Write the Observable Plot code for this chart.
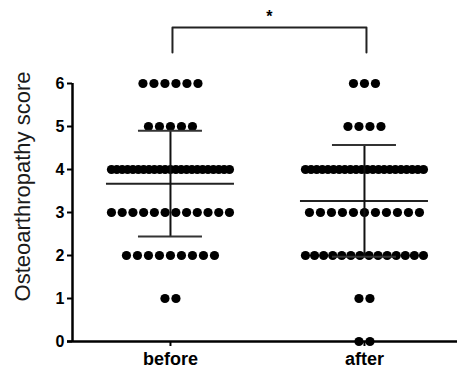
<!DOCTYPE html>
<html>
<head>
<meta charset="utf-8">
<script src="https://cdn.jsdelivr.net/npm/d3@7"></script>
<script src="https://cdn.jsdelivr.net/npm/@observablehq/plot@0.6"></script>
<style>
  html, body { margin: 0; padding: 0; background: #fff; }
</style>
</head>
<body>
<div id="chart"></div>
<script>
// ---- data ----
const groups = ["before", "after"];
const scores = [0, 1, 2, 3, 4, 5, 6];
const beforeCounts = [0, 2, 9, 12, 23, 5, 6];
const afterCounts  = [2, 2, 14, 11, 22, 4, 3];
const means = [3.67, 3.27];
const sds   = [1.23, 1.30];
const yTicks = [0, 1, 2, 3, 4, 5, 6];
const significance = "*";

// ---- layout ----
const W = 457, H = 371;
const mL = 72, mR = 0, mT = 83, mB = 30;
const pxPerUnit = 194;
const x0 = -0.505;
const xDomain = [x0, x0 + (W - mL - mR) / pxPerUnit];
const dotSpacing = 11, maxRowWidth = 118;
const meanHalf = 64 / pxPerUnit, capHalf = 32 / pxPerUnit;

const counts = [beforeCounts, afterCounts];
const pts = [];
counts.forEach((cs, g) => {
  cs.forEach((c, k) => {
    if (!c) return;
    const sp = c > 1 ? Math.min(dotSpacing, maxRowWidth / (c - 1)) : 0;
    for (let i = 0; i < c; i++) {
      pts.push({g, score: scores[k], x: g + (i - (c - 1) / 2) * sp / pxPerUnit});
    }
  });
});
const stats = groups.map((name, g) => ({g, mean: means[g], lo: means[g] - sds[g], hi: means[g] + sds[g]}));
const bracketTop = 7.3, bracketBottom = 6.72, starY = 7.55;

const plot = Plot.plot({
  width: W, height: H,
  marginLeft: mL, marginRight: mR, marginTop: mT, marginBottom: mB,
  style: {fontFamily: "'Liberation Sans', Arial, sans-serif", color: "#000", background: "#fff"},
  x: {type: "linear", domain: xDomain, axis: null},
  y: {domain: [0, 6], axis: null},
  marks: [
    Plot.dot(pts, {x: "x", y: "score", r: 4.6, fill: "#000", stroke: "none"}),
    // mean lines
    Plot.ruleY(stats, {y: "mean", x1: d => d.g - meanHalf, x2: d => d.g + meanHalf, stroke: "#222", strokeWidth: 2}),
    // SD error bars
    Plot.ruleX(stats, {x: "g", y1: "lo", y2: "hi", stroke: "#111", strokeWidth: 2}),
    Plot.ruleY(stats, {y: "lo", x1: d => d.g - capHalf, x2: d => d.g + capHalf, stroke: "#333", strokeWidth: 2}),
    Plot.ruleY(stats, {y: "hi", x1: d => d.g - capHalf, x2: d => d.g + capHalf, stroke: "#333", strokeWidth: 2}),
    // axes
    Plot.ruleY([0], {stroke: "#000", strokeWidth: 2.5, insetLeft: -5}),
    Plot.ruleX([xDomain[0]], {y1: 0, y2: 6, stroke: "#000", strokeWidth: 2.5}),
    Plot.axisY({ticks: yTicks, tickFormat: d3.format("d"), tickSize: 5, tickPadding: 3, fontSize: 16, fontWeight: "bold", label: null, strokeWidth: 2}),
    Plot.axisX({ticks: [0, 1], tickFormat: i => groups[i], tickSize: 5, tickPadding: 6, fontSize: 18, fontWeight: "bold", label: null, strokeWidth: 2}),
    Plot.text(["Osteoarthropathy score"], {frameAnchor: "left", textAnchor: "middle", dx: -50, dy: -26, rotate: -90, fontSize: 22, fill: "#1a1a1a"}),
    // significance bracket
    Plot.line([{x: 0, y: bracketBottom}, {x: 0, y: bracketTop}, {x: 1, y: bracketTop}, {x: 1, y: bracketBottom}],
      {x: "x", y: "y", stroke: "#222", strokeWidth: 2, dx: 2, clip: false}),
    Plot.text([significance], {x: () => 0.5, y: () => starY, fontSize: 16, fontWeight: "bold", dx: 2})
  ]
});
document.getElementById("chart").appendChild(plot);
</script>
</body>
</html>
